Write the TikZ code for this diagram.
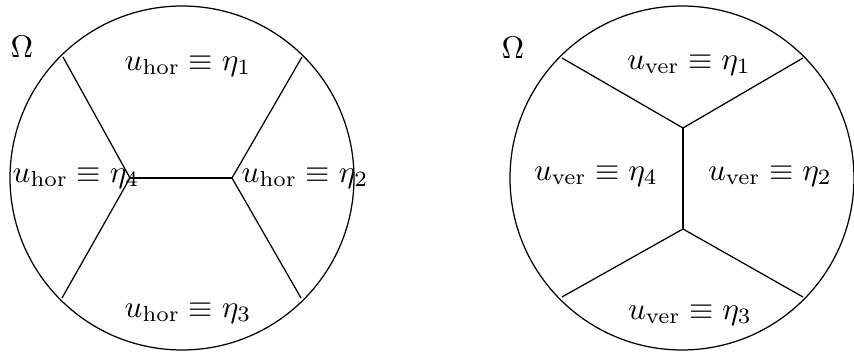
\documentclass[tikz,border=0pt]{standalone}
\begin{document}
\begin{tikzpicture}[x=0.32pt,y=-0.32pt,
  region/.style={draw=none,inner sep=0pt},
  edge/.style={draw=black,line width=0.4pt},
  dom/.style={draw=black,line width=0.4pt}]
\useasboundingbox (0,0) rectangle (854,352);
% left domain
\draw[dom] (182,178) circle[radius=55.04pt];
\coordinate (La) at (130,178);
\coordinate (Lb) at (232,178);
\coordinate (L1) at (63,57);
\coordinate (L2) at (302,57);
\coordinate (L3) at (62,298);
\coordinate (L4) at (301,298);
\draw[edge] (L1) -- (La) -- (L3);
\draw[edge] (La) -- (Lb);
\draw[edge] (L2) -- (Lb) -- (L4);
\node[region] (LO) at (22,47) {$\Omega$};
\node[region] (Le1) at (188,66) {$u_{\mathrm{hor}}\equiv\eta_1$};
\node[region] (Le2) at (305,178) {$u_{\mathrm{hor}}\equiv\eta_2$};
\node[region] (Le3) at (188,313) {$u_{\mathrm{hor}}\equiv\eta_3$};
\node[region] (Le4) at (76,178) {$u_{\mathrm{hor}}\equiv\eta_4$};
% right domain
\draw[dom] (682,178) circle[radius=55.04pt];
\coordinate (Ra) at (683,128);
\coordinate (Rb) at (683,229);
\coordinate (R1) at (562,58);
\coordinate (R2) at (803,58);
\coordinate (R3) at (562,297);
\coordinate (R4) at (803,297);
\draw[edge] (R1) -- (Ra) -- (R2);
\draw[edge] (Ra) -- (Rb);
\draw[edge] (R3) -- (Rb) -- (R4);
\node[region] (RO) at (513,48) {$\Omega$};
\node[region] (Re1) at (689,65) {$u_{\mathrm{ver}}\equiv\eta_1$};
\node[region] (Re2) at (770,176) {$u_{\mathrm{ver}}\equiv\eta_2$};
\node[region] (Re3) at (690,315) {$u_{\mathrm{ver}}\equiv\eta_3$};
\node[region] (Re4) at (596,176) {$u_{\mathrm{ver}}\equiv\eta_4$};
\end{tikzpicture}
\end{document}
